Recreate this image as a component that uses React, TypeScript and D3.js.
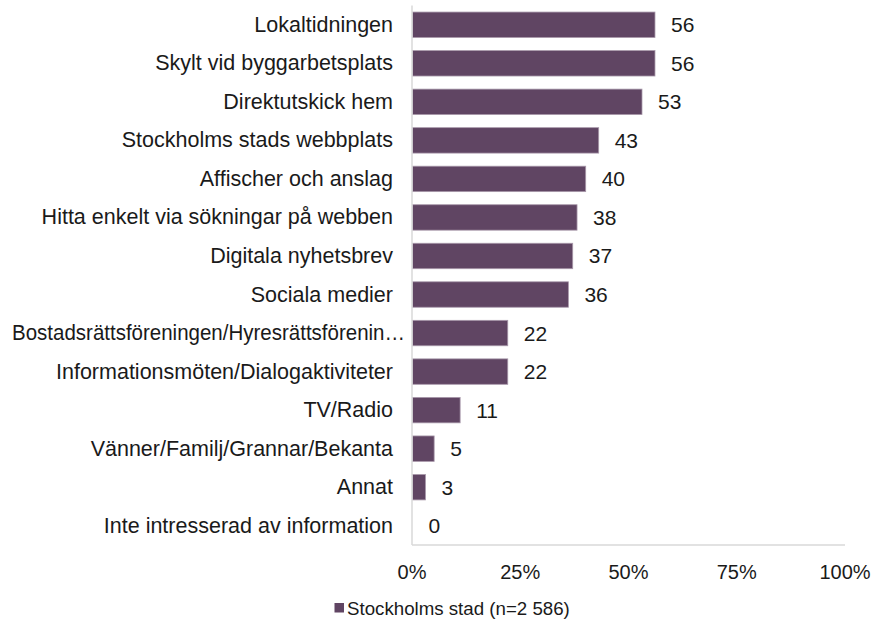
import React from "react";
import * as d3 from "d3";

const categories = [
  "Lokaltidningen",
  "Skylt vid byggarbetsplats",
  "Direktutskick hem",
  "Stockholms stads webbplats",
  "Affischer och anslag",
  "Hitta enkelt via sökningar på webben",
  "Digitala nyhetsbrev",
  "Sociala medier",
  "Bostadsrättsföreningen/Hyresrättsförenin…",
  "Informationsmöten/Dialogaktiviteter",
  "TV/Radio",
  "Vänner/Familj/Grannar/Bekanta",
  "Annat",
  "Inte intresserad av information",
];
const values = [56, 56, 53, 43, 40, 38, 37, 36, 22, 22, 11, 5, 3, 0];
const ticks = [0, 25, 50, 75, 100];
const seriesName = "Stockholms stad (n=2 586)";

export default function App() {
  const W = 874, H = 628;
  const left = 412, right = 845, top = 5.5, bottom = 545;
  const x = d3.scaleLinear().domain([0, 100]).range([left, right]);
  const y = d3.scaleBand<string>().domain(categories).range([top, bottom]).paddingInner(0.34).paddingOuter(0.17);
  const font = "'Liberation Sans', Arial, sans-serif";
  const color = "#604563";
  return (
    <svg width={W} height={H} style={{ position: "absolute", left: 0, top: 0, background: "#fff" }} fontFamily={font}>
      {categories.map((c, i) => {
        const yc = y(c)! + y.bandwidth() / 2;
        const trunc = c.endsWith("…");
        return (
          <g key={c}>
            {values[i] > 0 && (
              <rect x={x(0) + 0.5} y={y(c)!} width={x(values[i]) - x(0)} height={y.bandwidth()} fill={color} stroke="#a898aa" strokeWidth={0.8} />
            )}
            <text x={trunc ? 12 : left - 19} y={yc} textAnchor={trunc ? "start" : "end"} dominantBaseline="central" fontSize={21.5} fill="#1a1a1a" textLength={trunc ? 393 : undefined} lengthAdjust="spacingAndGlyphs">{c}</text>
            <text x={x(values[i]) + 16.5} y={yc} dominantBaseline="central" fontSize={21} fill="#1a1a1a">{values[i]}</text>
          </g>
        );
      })}
      <line x1={left} x2={left} y1={top} y2={bottom} stroke="#d9d9d9" strokeWidth={1.5} />
      <line x1={left} x2={right} y1={bottom} y2={bottom} stroke="#d9d9d9" strokeWidth={1.5} />
      {ticks.map((t) => (
        <text key={t} x={x(t)} y={572} textAnchor="middle" dominantBaseline="central" fontSize={20} fill="#1a1a1a">{t}%</text>
      ))}
      <rect x={334.5} y={603} width={9.5} height={9.5} fill={color} />
      <text x={347} y={608} dominantBaseline="central" fontSize={18.7} fill="#1a1a1a">{seriesName}</text>
    </svg>
  );
}
